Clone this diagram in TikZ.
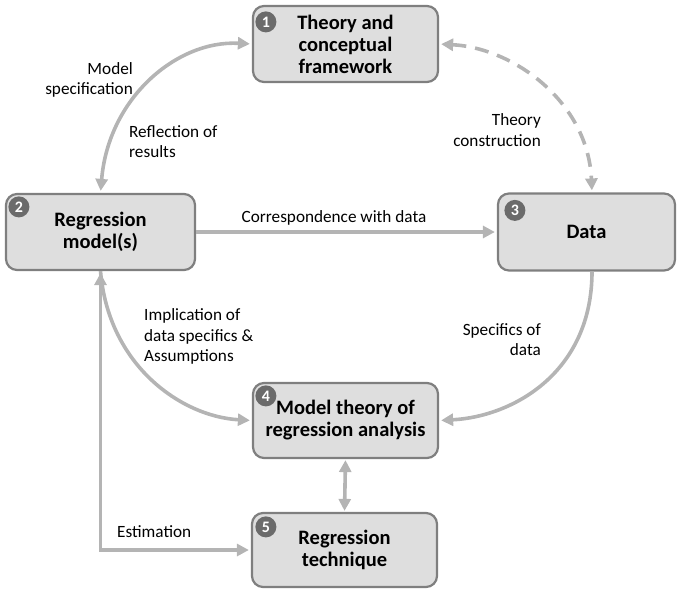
\documentclass[tikz,border=0pt]{standalone}
\usepackage{fontspec}
\setmainfont{Carlito}
\usetikzlibrary{arrows.meta}
\definecolor{boxfill}{HTML}{DEDEDE}
\definecolor{boxline}{HTML}{7F7F7F}
\definecolor{badgefill}{HTML}{6B6B6B}
\definecolor{linkcol}{HTML}{B4B4B4}
\begin{document}
\begin{tikzpicture}[x=1pt,y=-1pt,
  stagebox/.style={draw=boxline, fill=boxfill, line width=2.2pt, rounded corners=11pt,
    align=center, font=\fontsize{20.5}{22}\selectfont\bfseries, inner sep=0pt},
  badge/.style={circle, fill=badgefill, text=white, minimum size=21pt, inner sep=0pt,
    font=\fontsize{16}{16}\selectfont\bfseries},
  link/.style={draw=linkcol, line width=3.6pt, -{Triangle[length=12pt,width=12pt]}},
  twolink/.style={link, {Triangle[length=12pt,width=12pt]}-{Triangle[length=12pt,width=12pt]}},
  lbl/.style={font=\fontsize{17.2}{20.5}\selectfont, inner sep=0pt}
]
\useasboundingbox (0,0) rectangle (677,589);

% stages
\node[stagebox, minimum width=185pt, minimum height=76pt] (b1) at (345.5,44) {Theory and\\conceptual\\framework};
\node[stagebox, minimum width=189pt, minimum height=76pt] (b2) at (100.5,232) {Regression\\model(s)};
\node[stagebox, minimum width=177pt, minimum height=77pt] (b3) at (586.5,232) {Data};
\node[stagebox, minimum width=185pt, minimum height=75pt] (b4) at (345.5,420.5) {Model theory of\\regression analysis};
\node[stagebox, minimum width=185pt, minimum height=74pt] (b5) at (344.5,550) {Regression\\technique};

% numbered badges
\node[badge] (n1) at ([shift={(14,17)}]b1.north west) {1};
\node[badge] (n2) at ([shift={(14,14)}]b2.north west) {2};
\node[badge] (n3) at ([shift={(18,18)}]b3.north west) {3};
\node[badge] (n4) at ([shift={(14,14)}]b4.north west) {4};
\node[badge] (n5) at ([shift={(15,15)}]b5.north west) {5};

% connectors
\draw[twolink, shorten >=2pt, shorten <=2pt] (b2.north) .. controls +(8,-95) and +(-75,-4) .. (b1.west);
\draw[twolink, dashed, dash pattern=on 14pt off 9pt, shorten >=2pt, shorten <=2pt]
  (b1.east) .. controls +(75,4) and +(-4,-90) .. ([xshift=5.5pt]b3.north);
\draw[link, shorten >=2pt] (b2.east) -- (b3.west);
\draw[link, shorten >=2pt] ([xshift=5.5pt]b3.south) .. controls +(0,100) and +(75,-4) .. (b4.east);
\draw[link, shorten >=2pt] (b2.south) .. controls +(8,95) and +(-70,-4) .. (b4.west);
\draw[twolink, shorten >=2pt, shorten <=2pt] (b2.south) |- (b5.west);
\draw[twolink, shorten >=1pt, shorten <=1pt] (b4.south) -- (b5.north);

% connector labels
\node[lbl, align=right, anchor=east] (l1) at (133,80) {Model\\specification};
\node[lbl, align=left, anchor=west] (l2) at (129,141.5) {Reflection of\\results};
\node[lbl, align=right, anchor=east] (l3) at (541,130) {Theory\\construction};
\node[lbl] (l4) at (334,218) {Correspondence with data};
\node[lbl, align=left, anchor=west] (l5) at (144,336.5) {Implication of\\data specifics \&\\Assumptions};
\node[lbl, align=right, anchor=east] (l6) at (541,339.5) {Specifics of\\data};
\node[lbl, anchor=west] (l7) at (117,532) {Estimation};
\end{tikzpicture}
\end{document}
